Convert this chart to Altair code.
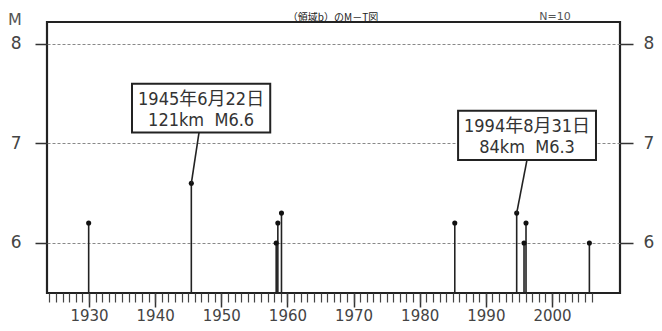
import altair as alt
import pandas as pd

# ---- data ----
years = [1929.95, 1945.47, 1958.3, 1958.55, 1959.1, 1985.3, 1994.66, 1995.77, 1996.07, 2005.65]
mags = [6.2, 6.6, 6.0, 6.2, 6.3, 6.2, 6.3, 6.0, 6.2, 6.0]

major_ticks = [1930, 1940, 1950, 1960, 1970, 1980, 1990, 2000]
minor_ticks = list(range(1924, 2007))
y_ticks = [6, 7, 8]

ann_dates = ["1945年6月22日", "1994年8月31日"]
ann_details = ["121km\u00a0\u00a0M6.6", "84km\u00a0\u00a0M6.3"]
ann_year = [1945.47, 1994.66]
ann_mag = [6.6, 6.3]

title_text = "（領域b）のM－T図"

# annotation box placement (data units)
box_x0 = [1936.5, 1985.8]
box_x1 = [1957.4, 2006.65]
box_ytop = [7.60, 7.33]
box_ybot = [7.11, 6.835]
leader_x = [1946.63, 1996.22]

X_DOMAIN = [1923.65, 2010.28]
Y_DOMAIN = [5.497, 8.221]

df = pd.DataFrame({"year": years, "mag": mags})
df["base"] = Y_DOMAIN[0]

ann = pd.DataFrame({
    "date": ann_dates, "detail": ann_details, "year": ann_year, "mag": ann_mag,
    "x0": box_x0, "x1": box_x1, "ytop": box_ytop, "ybot": box_ybot, "lx": leader_x,
})
ann["xc"] = (ann["x0"] + ann["x1"]) / 2

xs = alt.Scale(domain=X_DOMAIN, nice=False, zero=False)
ys = alt.Scale(domain=Y_DOMAIN, nice=False, zero=False)

LABEL_FONT = "DejaVu Sans"
ANN_FONT = "Liberation Sans Narrow, DejaVu Sans Condensed, Noto Sans CJK JP, sans-serif"

stems = alt.Chart(df).mark_rule(color="#222", strokeWidth=1.6).encode(
    x=alt.X("year:Q", scale=xs, axis=alt.Axis(
        orient="bottom", values=major_ticks, format="d", tickSize=14, tickColor="#333", tickWidth=1.5,
        labelFontSize=15, labelColor="#444", labelFont=LABEL_FONT, labelPadding=1,
        domain=False, grid=False, title=None, labelFlush=False)),
    y=alt.Y("mag:Q", scale=ys, axis=alt.Axis(
        orient="left", values=y_ticks, format="d", tickSize=12, tickColor="#333", tickWidth=1.5,
        labelFontSize=17, labelColor="#444", labelFont=LABEL_FONT, labelPadding=14,
        grid=True, gridDash=[3, 2], gridColor="#888", gridWidth=1,
        domain=False, title=None)),
    y2="base:Q",
)

second_axes = alt.Chart(df).mark_point(opacity=0).encode(
    x=alt.X("year:Q", scale=xs, axis=alt.Axis(
        orient="bottom", values=minor_ticks, labels=False, tickSize=9, tickColor="#444", tickWidth=1.2,
        domain=False, grid=False, title=None)),
    y=alt.Y("mag:Q", scale=ys, axis=alt.Axis(
        orient="right", values=y_ticks, format="d", tickSize=13, tickColor="#333", tickWidth=1.5,
        labelFontSize=17, labelColor="#444", labelFont=LABEL_FONT, labelPadding=10,
        grid=False, domain=False, title=None)),
)

dots = alt.Chart(df).mark_circle(size=26, color="#111", opacity=1).encode(
    x=alt.X("year:Q", scale=xs, axis=None),
    y=alt.Y("mag:Q", scale=ys, axis=None),
)

leaders = alt.Chart(ann).mark_rule(color="#222", strokeWidth=1.6).encode(
    x=alt.X("lx:Q", scale=xs, axis=None),
    y=alt.Y("ybot:Q", scale=ys, axis=None),
    x2="year:Q",
    y2="mag:Q",
)

boxes = alt.Chart(ann).mark_rect(fill="white", stroke="#222", strokeWidth=2).encode(
    x=alt.X("x0:Q", scale=xs, axis=None),
    x2="x1:Q",
    y=alt.Y("ytop:Q", scale=ys, axis=None),
    y2="ybot:Q",
)

line1 = alt.Chart(ann).mark_text(
    baseline="middle", align="center", dy=16.5, fontSize=18, font=ANN_FONT, color="#333"
).encode(
    x=alt.X("xc:Q", scale=xs, axis=None),
    y=alt.Y("ytop:Q", scale=ys, axis=None),
    text="date:N",
)

line2 = alt.Chart(ann).mark_text(
    baseline="middle", align="center", dy=-11.5, fontSize=18, font=ANN_FONT, color="#333"
).encode(
    x=alt.X("xc:Q", scale=xs, axis=None),
    y=alt.Y("ybot:Q", scale=ys, axis=None),
    text="detail:N",
)

labels_df = pd.DataFrame({"t": [f"N={len(years)}"]})
n_label = alt.Chart(labels_df).mark_text(
    baseline="alphabetic", align="center", fontSize=11, font=LABEL_FONT, color="#555"
).encode(x=alt.value(508), y=alt.value(-2.5), text="t:N")

m_df = pd.DataFrame({"t": ["M"]})
m_label = alt.Chart(m_df).mark_text(
    baseline="middle", align="center", fontSize=16, font=LABEL_FONT, color="#555"
).encode(x=alt.value(-32), y=alt.value(-2), text="t:N")

t_df = pd.DataFrame({"t": [title_text]})
title_label = alt.Chart(t_df).mark_text(
    baseline="alphabetic", align="center", fontSize=10, font="Noto Sans CJK JP", color="#222"
).encode(x=alt.value(286), y=alt.value(-1.5), text="t:N")

chart = alt.layer(
    stems, second_axes, dots, leaders, boxes, line1, line2, n_label, m_label, title_label
).resolve_scale(
    x="shared", y="shared"
).resolve_axis(
    x="independent", y="independent"
).properties(
    width=573, height=271,
    autosize=alt.AutoSizeParams(type="none"),
    padding={"left": 39, "top": 14, "right": 34, "bottom": 30},
    background="white",
).configure_view(
    stroke="#222", strokeWidth=2.2
)

chart.save("out.html", embed_options={"renderer": "svg", "actions": False})
